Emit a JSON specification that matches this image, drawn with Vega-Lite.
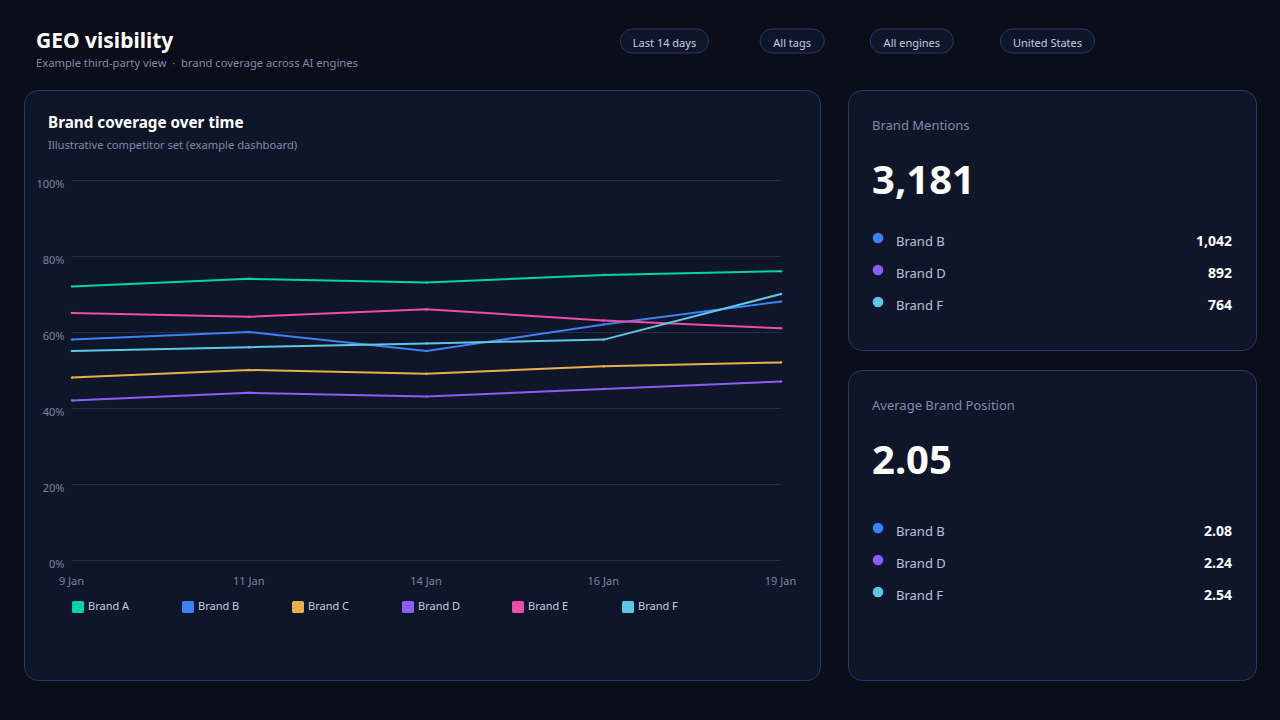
{
  "$schema": "https://vega.github.io/schema/vega-lite/v6.json",
  "background": "#0a0e1a",
  "padding": {"left": 23, "top": 24, "right": 24, "bottom": 39},
  "config": {
    "font": "Noto Sans",
    "view": {"stroke": null},
    "title": {"anchor": "start", "frame": "group", "color": "#ffffff", "subtitleColor": "#7f8aa8"}
  },
  "datasets": {
    "coverage": [
      {"date": "9 Jan", "brand": "Brand A", "coverage": 72},
      {"date": "11 Jan", "brand": "Brand A", "coverage": 74},
      {"date": "14 Jan", "brand": "Brand A", "coverage": 73},
      {"date": "16 Jan", "brand": "Brand A", "coverage": 75},
      {"date": "19 Jan", "brand": "Brand A", "coverage": 76},
      {"date": "9 Jan", "brand": "Brand B", "coverage": 58},
      {"date": "11 Jan", "brand": "Brand B", "coverage": 60},
      {"date": "14 Jan", "brand": "Brand B", "coverage": 55},
      {"date": "16 Jan", "brand": "Brand B", "coverage": 62},
      {"date": "19 Jan", "brand": "Brand B", "coverage": 68},
      {"date": "9 Jan", "brand": "Brand C", "coverage": 48},
      {"date": "11 Jan", "brand": "Brand C", "coverage": 50},
      {"date": "14 Jan", "brand": "Brand C", "coverage": 49},
      {"date": "16 Jan", "brand": "Brand C", "coverage": 51},
      {"date": "19 Jan", "brand": "Brand C", "coverage": 52},
      {"date": "9 Jan", "brand": "Brand D", "coverage": 42},
      {"date": "11 Jan", "brand": "Brand D", "coverage": 44},
      {"date": "14 Jan", "brand": "Brand D", "coverage": 43},
      {"date": "16 Jan", "brand": "Brand D", "coverage": 45},
      {"date": "19 Jan", "brand": "Brand D", "coverage": 47},
      {"date": "9 Jan", "brand": "Brand E", "coverage": 65},
      {"date": "11 Jan", "brand": "Brand E", "coverage": 64},
      {"date": "14 Jan", "brand": "Brand E", "coverage": 66},
      {"date": "16 Jan", "brand": "Brand E", "coverage": 63},
      {"date": "19 Jan", "brand": "Brand E", "coverage": 61},
      {"date": "9 Jan", "brand": "Brand F", "coverage": 55},
      {"date": "11 Jan", "brand": "Brand F", "coverage": 56},
      {"date": "14 Jan", "brand": "Brand F", "coverage": 57},
      {"date": "16 Jan", "brand": "Brand F", "coverage": 58},
      {"date": "19 Jan", "brand": "Brand F", "coverage": 70}
    ],
    "ticks": [{"tick": 0}, {"tick": 20}, {"tick": 40}, {"tick": 60}, {"tick": 80}, {"tick": 100}],
    "filters": [
      {"group": "filters", "label": "Last 14 days"},
      {"group": "filters", "label": "All tags"},
      {"group": "filters", "label": "All engines"},
      {"group": "filters", "label": "United States"}
    ],
    "mentions": [
      {"brand": "Brand B", "value": 1042},
      {"brand": "Brand D", "value": 892},
      {"brand": "Brand F", "value": 764}
    ],
    "position": [
      {"brand": "Brand B", "value": 2.08},
      {"brand": "Brand D", "value": 2.24},
      {"brand": "Brand F", "value": 2.54}
    ]
  },
  "spacing": 0,
  "bounds": "flush",
  "resolve": {"scale": {"color": "independent"}},
  "vconcat": [
    {
      "width": 1232,
      "height": 66,
      "title": {
        "text": "GEO visibility",
        "subtitle": "Example third-party view \u00a0·\u00a0 brand coverage across AI engines",
        "fontSize": 21,
        "fontWeight": "bold",
        "subtitleFontSize": 11.2,
        "subtitlePadding": 6,
        "dx": 12,
        "dy": 49
      },
      "data": {"name": "filters"},
      "encoding": {
        "x": {"field": "label", "type": "nominal", "sort": null, "axis": null,
          "scale": {"type": "point", "padding": 0, "range": [640.5, 1023.5]}},
        "y": {"field": "group", "type": "nominal", "axis": null,
          "scale": {"type": "point", "range": [17, 17]}}
      },
      "layer": [
        {"transform": [{"filter": "datum.label == 'Last 14 days'"}],
          "mark": {"type": "rect", "width": 88, "height": 24, "cornerRadius": 12, "fill": "#0f1629", "stroke": "#2a3a66"}},
        {"transform": [{"filter": "datum.label == 'All tags'"}],
          "mark": {"type": "rect", "width": 64, "height": 24, "cornerRadius": 12, "fill": "#0f1629", "stroke": "#2a3a66"}},
        {"transform": [{"filter": "datum.label == 'All engines'"}],
          "mark": {"type": "rect", "width": 83, "height": 24, "cornerRadius": 12, "fill": "#0f1629", "stroke": "#2a3a66", "xOffset": -8}},
        {"transform": [{"filter": "datum.label == 'United States'"}],
          "mark": {"type": "rect", "width": 94, "height": 24, "cornerRadius": 12, "fill": "#0f1629", "stroke": "#2a3a66"}},
        {"transform": [{"filter": "datum.label != 'All engines'"}],
          "mark": {"type": "text", "fontSize": 11, "color": "#c4cde4", "dy": 3},
          "encoding": {"text": {"field": "label"}}},
        {"transform": [{"filter": "datum.label == 'All engines'"}],
          "mark": {"type": "text", "fontSize": 11, "color": "#c4cde4", "dy": 3, "xOffset": -8},
          "encoding": {"text": {"field": "label"}}}
      ]
    },
    {
      "spacing": 28,
      "bounds": "flush",
      "resolve": {"scale": {"color": "independent"}},
      "hconcat": [
        {
          "width": 796,
          "height": 590,
          "view": {"fill": "#0f1629", "stroke": "#2a3a66", "cornerRadius": 14},
          "title": {
            "text": "Brand coverage over time",
            "subtitle": "Illustrative competitor set (example dashboard)",
            "fontSize": 15.25,
            "fontWeight": "bold",
            "subtitleFontSize": 11.2,
            "subtitlePadding": 9,
            "dx": 24,
            "dy": 65
          },
          "layer": [
            {
              "data": {"name": "ticks"},
              "mark": {"type": "rule", "color": "#222d4a", "yOffset": 0.5},
              "encoding": {
                "y": {"field": "tick", "type": "quantitative"},
                "x": {"datum": "9 Jan"},
                "x2": {"datum": "19 Jan"}
              }
            },
            {
              "data": {"name": "coverage"},
              "mark": {"type": "line", "strokeWidth": 2},
              "encoding": {
                "x": {"field": "date", "type": "nominal"},
                "y": {"field": "coverage", "type": "quantitative"},
                "color": {"field": "brand", "type": "nominal"}
              }
            },
            {
              "data": {"name": "coverage"},
              "mark": {"type": "point", "filled": true, "size": 6, "opacity": 1},
              "encoding": {
                "x": {
                  "field": "date", "type": "nominal", "sort": null, "title": null,
                  "scale": {"type": "point", "padding": 0, "range": [48, 757],
                    "domain": ["9 Jan", "11 Jan", "14 Jan", "16 Jan", "19 Jan"]},
                  "axis": {"offset": -120, "labelAngle": 0, "labelAlign": "center", "labelBaseline": "middle",
                    "ticks": false, "domain": false, "grid": false, "labelOffset": -1,
                    "labelPadding": 21, "labelFontSize": 11, "labelColor": "#7a84a0"}
                },
                "y": {
                  "field": "coverage", "type": "quantitative", "title": null,
                  "scale": {"domain": [0, 100], "range": [470, 90], "nice": false},
                  "axis": {"offset": -40, "values": [0, 20, 40, 60, 80, 100], "labelExpr": "datum.value + '%'",
                    "ticks": false, "domain": false, "grid": false, "labelPadding": 0, "labelOffset": 4,
                    "labelFontSize": 11, "labelColor": "#7a84a0"}
                },
                "color": {
                  "field": "brand", "type": "nominal",
                  "scale": {
                    "domain": ["Brand A", "Brand B", "Brand C", "Brand D", "Brand E", "Brand F"],
                    "range": ["#00d4aa", "#3b82f6", "#e8b04a", "#8b5cf6", "#ec4fa8", "#5bc8e8"]
                  },
                  "legend": {
                    "orient": "none", "legendX": 48, "legendY": 511, "direction": "horizontal",
                    "columns": 6, "gridAlign": "all", "title": null, "columnPadding": 51,
                    "symbolType": "M-0.7,-1H0.7A0.3,0.3 0 0 1 1,-0.7V0.7A0.3,0.3 0 0 1 0.7,1H-0.7A0.3,0.3 0 0 1 -1,0.7V-0.7A0.3,0.3 0 0 1 -0.7,-1Z",
                    "symbolSize": 144, "symbolStrokeWidth": 0, "symbolOpacity": 1,
                    "labelFontSize": 11, "labelColor": "#c4cde4", "labelOffset": 4
                  }
                }
              }
            }
          ]
        },
        {
          "spacing": 20,
          "bounds": "flush",
          "resolve": {"scale": {"color": "independent"}},
          "vconcat": [
            {
              "width": 408,
              "height": 260,
              "view": {"fill": "#0f1629", "stroke": "#2a3a66", "cornerRadius": 14},
              "title": {
                "text": "Brand Mentions",
                "subtitle": "3,181",
                "fontSize": 13,
                "fontWeight": "normal",
                "color": "#7f8aa8",
                "subtitleColor": "#ffffff",
                "subtitleFontSize": 40,
                "subtitleFontWeight": "bold",
                "subtitlePadding": 29,
                "dx": 24,
                "dy": 116
              },
              "data": {"name": "mentions"},
              "encoding": {
                "y": {"field": "brand", "type": "nominal", "axis": null,
                  "scale": {"type": "point", "padding": 0, "range": [152, 216]}}
              },
              "layer": [
                {
                  "mark": {"type": "point", "filled": true, "shape": "circle", "size": 113, "opacity": 1, "xOffset": -18, "yOffset": -4},
                  "encoding": {
                    "x": {"datum": "name", "axis": null, "scale": {"type": "point", "padding": 0, "domain": ["name", "value"], "range": [48, 384]}},
                    "color": {"field": "brand", "type": "nominal", "legend": null,
                      "scale": {"domain": ["Brand B", "Brand D", "Brand F"], "range": ["#3b82f6", "#8b5cf6", "#5bc8e8"]}}
                  }
                },
                {
                  "mark": {"type": "text", "align": "left", "fontSize": 13, "color": "#b8c2dc"},
                  "encoding": {"x": {"datum": "name"}, "text": {"field": "brand"}}
                },
                {
                  "mark": {"type": "text", "align": "right", "fontSize": 14, "fontWeight": "bold", "color": "#ffffff"},
                  "encoding": {"x": {"datum": "value"}, "text": {"field": "value", "type": "quantitative", "format": ","}}
                }
              ]
            },
            {
              "width": 408,
              "height": 310,
              "view": {"fill": "#0f1629", "stroke": "#2a3a66", "cornerRadius": 14},
              "title": {
                "text": "Average Brand Position",
                "subtitle": "2.05",
                "fontSize": 13,
                "fontWeight": "normal",
                "color": "#7f8aa8",
                "subtitleColor": "#ffffff",
                "subtitleFontSize": 40,
                "subtitleFontWeight": "bold",
                "subtitlePadding": 29,
                "dx": 24,
                "dy": 116
              },
              "data": {"name": "position"},
              "encoding": {
                "y": {"field": "brand", "type": "nominal", "axis": null,
                  "scale": {"type": "point", "padding": 0, "range": [162, 226]}}
              },
              "layer": [
                {
                  "mark": {"type": "point", "filled": true, "shape": "circle", "size": 113, "opacity": 1, "xOffset": -18, "yOffset": -4},
                  "encoding": {
                    "x": {"datum": "name", "axis": null, "scale": {"type": "point", "padding": 0, "domain": ["name", "value"], "range": [48, 384]}},
                    "color": {"field": "brand", "type": "nominal", "legend": null,
                      "scale": {"domain": ["Brand B", "Brand D", "Brand F"], "range": ["#3b82f6", "#8b5cf6", "#5bc8e8"]}}
                  }
                },
                {
                  "mark": {"type": "text", "align": "left", "fontSize": 13, "color": "#b8c2dc"},
                  "encoding": {"x": {"datum": "name"}, "text": {"field": "brand"}}
                },
                {
                  "mark": {"type": "text", "align": "right", "fontSize": 14, "fontWeight": "bold", "color": "#ffffff"},
                  "encoding": {"x": {"datum": "value"}, "text": {"field": "value", "type": "quantitative", "format": ".2f"}}
                }
              ]
            }
          ]
        }
      ]
    }
  ]
}
